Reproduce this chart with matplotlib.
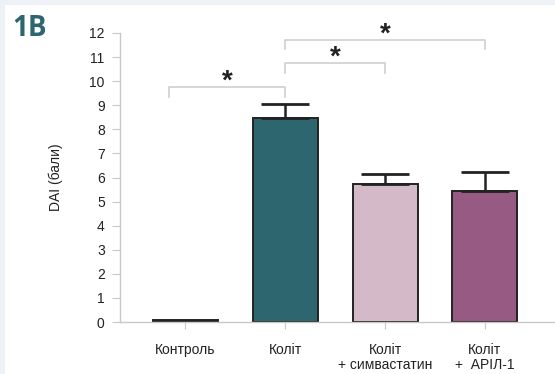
import matplotlib.pyplot as plt
import numpy as np

plt.rcParams['font.family'] = ['Liberation Sans', 'DejaVu Sans']

# Data
groups = ['Контроль', 'Коліт', 'Коліт\n+ симвастатин', 'Коліт\n+  АРІЛ-1']
dai = [0.1, 8.45, 5.72, 5.42]
err = [0.0, 0.6, 0.42, 0.8]
colors = ['#2b2b2b', '#2e6670', '#d4bac8', '#975a82']

# significance brackets: (x start, x end, y top, leg length)
brackets = [(-0.16, 1.0, 9.75, 0.42),
            (1.0, 2.0, 10.75, 0.42),
            (1.0, 3.0, 11.7, 0.37)]

fig = plt.figure(figsize=(5.55, 3.74), dpi=100)
fig.patch.set_facecolor('#eef2f6')
# white panel
fig.add_artist(plt.Rectangle((5 / 555, 0), 1, 1 - 5 / 374, transform=fig.transFigure,
                             facecolor='white', edgecolor='none', zorder=0))

ax = fig.add_axes([120 / 555, 1 - 322 / 374, 435 / 555, 289 / 374])
ax.set_facecolor('none')

x = np.arange(len(groups))
ax.bar(x, dai, width=0.65, color=colors, edgecolor='#222222', linewidth=1.4, zorder=2)
ax.errorbar(x[1:], dai[1:], yerr=[np.zeros(3), err[1:]], fmt='none', ecolor='#222222',
            elinewidth=1.8, capsize=17, capthick=2, zorder=3)

for x0, x1, yt, leg in brackets:
    ax.plot([x0, x0, x1, x1], [yt - leg, yt, yt, yt - leg], color='#cfcfcf',
            linewidth=1.2, clip_on=False, zorder=1)
    ax.text((x0 + x1) / 2, yt - 0.32, '*', ha='center', va='bottom', fontsize=20,
            fontweight='bold', color='#222222', clip_on=False)

ax.set_xlim(-0.65, 3.7)
ax.set_ylim(0, 12)
ax.set_yticks(range(0, 13))
ax.set_xticks(x)
ax.set_xticklabels(groups, fontsize=10, color='#222222', linespacing=1.15)
ax.tick_params(axis='y', labelsize=10, colors='#222222', length=6, color='#c8c8c8', pad=5)
ax.tick_params(axis='x', length=5, color='#c8c8c8', pad=10)
ax.set_ylabel('DAI (бали)', fontsize=10, color='#222222', labelpad=19)

for s in ['top', 'right']:
    ax.spines[s].set_visible(False)
for s in ['left', 'bottom']:
    ax.spines[s].set_color('#c8c8c8')
    ax.spines[s].set_linewidth(1)

fig.text(12 / 555, 1 - 36 / 374, '1B', fontsize=20, fontweight='bold', color='#2e6670',
         family=['Open Sans', 'DejaVu Sans'])

fig.savefig('out.png', dpi=100, facecolor=fig.get_facecolor())
